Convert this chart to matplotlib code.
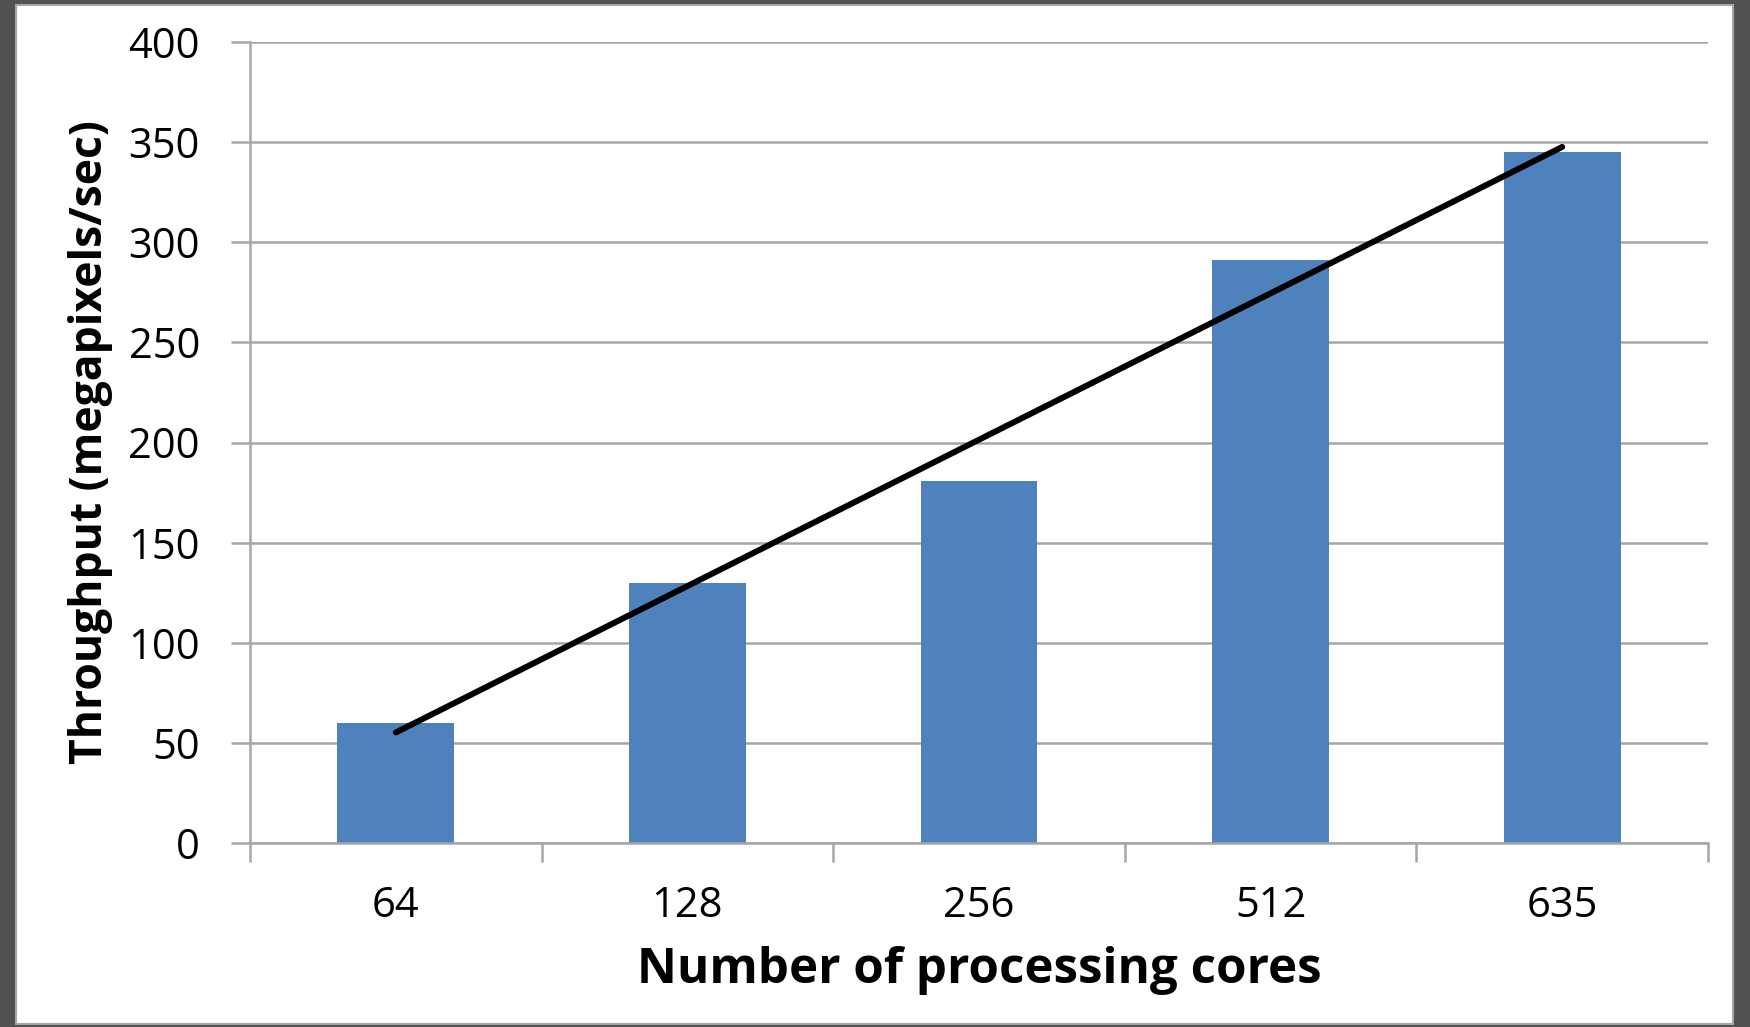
import numpy as np
import matplotlib
matplotlib.use("Agg")
import matplotlib.pyplot as plt
from matplotlib.patches import Rectangle

cores = ["64", "128", "256", "512", "635"]
throughput = [60, 130, 181, 291, 345]
y_ticks = [0, 50, 100, 150, 200, 250, 300, 350, 400]

plt.rcParams['font.family'] = ['Open Sans', 'DejaVu Sans']

fig = plt.figure(figsize=(17.5, 10.27), dpi=100, facecolor='#525252')

# white slide panel behind the chart
panel = Rectangle((16 / 1750, 1 - 1024 / 1027), (1733 - 16) / 1750, (1024 - 5) / 1027,
                  transform=fig.transFigure, facecolor='white', edgecolor='#a6a6a6',
                  linewidth=1.5, zorder=-1)
fig.patches.append(panel)

ax = fig.add_axes([250 / 1750, 1 - 843 / 1027, (1708 - 250) / 1750, (843 - 42) / 1027])
ax.set_facecolor('none')

x = np.arange(len(cores))
ax.bar(x, throughput, width=0.4, color='#4f81bd', zorder=2)

# linear trend line through the bar values
slope, intercept = np.polyfit(x + 1, throughput, 1)
trend = slope * (x + 1) + intercept
ax.plot(x, trend, color='black', linewidth=4.3, solid_capstyle='round', zorder=3)

ax.set_xlim(-0.5, len(cores) - 0.5)
ax.set_ylim(0, 400)
ax.set_yticks(y_ticks)
ax.yaxis.grid(True, color='#a6a6a6', linewidth=1.8, zorder=1)
ax.set_axisbelow(True)

ax.set_xticks(x)
ax.set_xticklabels(cores, fontsize=30)
ax.set_xticks(np.arange(len(cores) + 1) - 0.5, minor=True)
ax.tick_params(axis='x', which='major', length=0, pad=30)
ax.tick_params(axis='x', which='minor', length=14, width=1.8, color='#a6a6a6', direction='out')
ax.tick_params(axis='y', length=14, width=1.8, color='#a6a6a6', labelsize=30, pad=22)

for side in ['top', 'right']:
    ax.spines[side].set_visible(False)
for side in ['left', 'bottom']:
    ax.spines[side].set_color('#a6a6a6')
    ax.spines[side].set_linewidth(1.8)

ax.set_xlabel('Number of processing cores', fontsize=35.5, fontweight='bold', labelpad=14)
ax.set_ylabel('Throughput (megapixels/sec)', fontsize=32, fontweight='bold', labelpad=11)

fig.savefig('out.png', dpi=100, facecolor=fig.get_facecolor())
